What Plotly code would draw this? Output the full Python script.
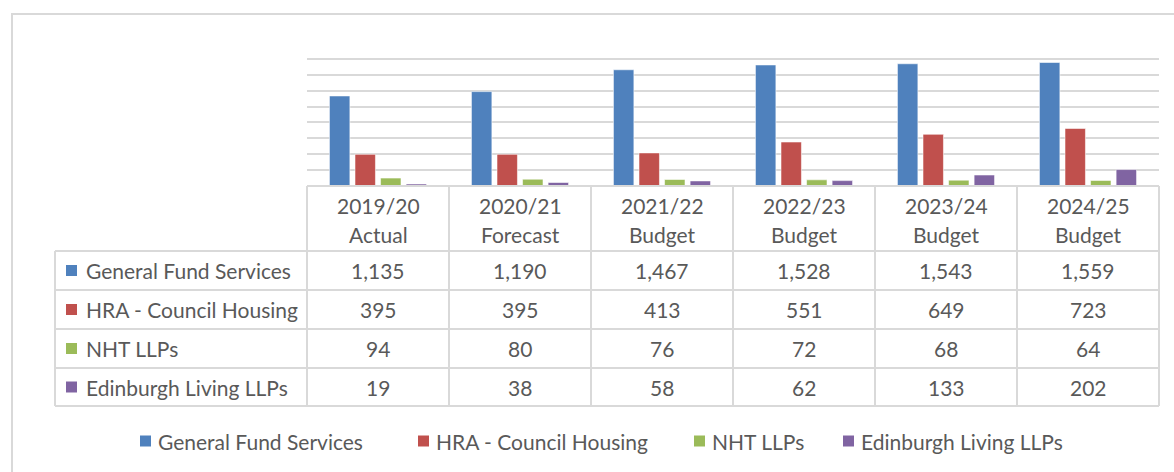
import plotly.graph_objects as go

# ---------------- data ----------------
years = ["2019/20", "2020/21", "2021/22", "2022/23", "2023/24", "2024/25"]
stages = ["Actual", "Forecast", "Budget", "Budget", "Budget", "Budget"]
series_names = ["General Fund Services", "HRA - Council Housing", "NHT LLPs", "Edinburgh Living LLPs"]
general_fund = [1135, 1190, 1467, 1528, 1543, 1559]
hra_council = [395, 395, 413, 551, 649, 723]
nht_llps = [94, 80, 76, 72, 68, 64]
edinburgh_living = [19, 38, 58, 62, 133, 202]
colors = ["#4F81BD", "#C0504D", "#9BBB59", "#8064A2"]

series_values = [general_fund, hra_council, nht_llps, edinburgh_living]
categories = [f"{y} {s}" for y, s in zip(years, stages)]

W, H = 1174, 472
def X(px):
    return px / W
def Y(py):
    return 1 - py / H

FONT = "Lato"
TXT = "#595959"
GRID = "#D9D9D9"
FS = 21

fig = go.Figure()
for name, vals, col in zip(series_names, series_values, colors):
    fig.add_trace(go.Bar(
        x=categories, y=vals, name=name,
        marker=dict(color=col, line=dict(color="rgba(255,255,255,0.55)", width=1)),
        showlegend=False,
    ))

# table geometry (pixels)
tab_left, col_left, tab_right = 55, 307, 1159
head_top = 186
row_lines = [251, 290, 329, 368, 406]
row_centers = [270.5, 309.5, 348.5, 387]

shapes = []
# outer chart border
shapes.append(dict(type="rect", xref="paper", yref="paper",
                   x0=X(12), x1=X(1190), y0=Y(490), y1=Y(14),
                   line=dict(color=GRID, width=2), fillcolor="rgba(0,0,0,0)", layer="below"))
# table horizontal lines
shapes.append(dict(type="line", xref="paper", yref="paper", x0=X(col_left), x1=X(tab_right),
                   y0=Y(head_top), y1=Y(head_top), line=dict(color=GRID, width=2)))
for ry in row_lines:
    shapes.append(dict(type="line", xref="paper", yref="paper", x0=X(tab_left), x1=X(tab_right),
                       y0=Y(ry), y1=Y(ry), line=dict(color=GRID, width=2)))
# table vertical lines
ncol = len(categories)
cw = (tab_right - col_left) / ncol
for i in range(ncol + 1):
    xx = col_left + i * cw
    shapes.append(dict(type="line", xref="paper", yref="paper", x0=X(xx), x1=X(xx),
                       y0=Y(head_top), y1=Y(row_lines[-1]), line=dict(color=GRID, width=2)))
shapes.append(dict(type="line", xref="paper", yref="paper", x0=X(tab_left), x1=X(tab_left),
                   y0=Y(row_lines[0]), y1=Y(row_lines[-1]), line=dict(color=GRID, width=2)))

annotations = []
# header text
for cat, yr, st in zip(categories, years, stages):
    annotations.append(dict(x=cat, xref="x", y=Y(206), yref="paper", text=yr, showarrow=False,
                            xanchor="center", yanchor="middle", font=dict(family=FONT, size=FS, color=TXT)))
    annotations.append(dict(x=cat, xref="x", y=Y(234), yref="paper", text=st, showarrow=False,
                            xanchor="center", yanchor="middle", font=dict(family=FONT, size=FS, color=TXT)))
# row labels + values
for name, vals, col, cy in zip(series_names, series_values, colors, row_centers):
    shapes.append(dict(type="rect", xref="paper", yref="paper", x0=X(66), x1=X(77),
                       y0=Y(cy + 5.5), y1=Y(cy - 5.5), fillcolor=col, line=dict(width=0)))
    annotations.append(dict(x=X(84), xref="paper", y=Y(cy), yref="paper", text=name, showarrow=False,
                            xanchor="left", yanchor="middle", font=dict(family=FONT, size=FS, color=TXT)))
    for cat, v in zip(categories, vals):
        annotations.append(dict(x=cat, xref="x", y=Y(cy), yref="paper", text=f"{v:,}", showarrow=False,
                                xanchor="center", yanchor="middle", font=dict(family=FONT, size=FS, color=TXT)))

# bottom legend
leg_sq = [140, 418, 694, 843]
leg_y = 441
for name, col, lx in zip(series_names, colors, leg_sq):
    shapes.append(dict(type="rect", xref="paper", yref="paper", x0=X(lx), x1=X(lx + 11),
                       y0=Y(leg_y + 5.5), y1=Y(leg_y - 5.5), fillcolor=col, line=dict(width=0)))
    annotations.append(dict(x=X(lx + 16), xref="paper", y=Y(leg_y), yref="paper", text=name, showarrow=False,
                            xanchor="left", yanchor="middle", font=dict(family=FONT, size=FS, color=TXT)))

fig.update_layout(
    width=W, height=H,
    margin=dict(l=0, r=0, t=0, b=0),
    paper_bgcolor="white", plot_bgcolor="white",
    barmode="group", bargap=0.28, bargroupgap=0.2,
    shapes=shapes, annotations=annotations,
    xaxis=dict(domain=[X(col_left), X(tab_right)], showticklabels=False, showgrid=False,
               zeroline=False, showline=False, ticks=""),
    yaxis=dict(domain=[Y(185.5), Y(43.5)], range=[0, 1800], dtick=200, showticklabels=False,
               showgrid=True, gridcolor=GRID, gridwidth=2, zeroline=True, zerolinecolor=GRID,
               zerolinewidth=2, showline=False, ticks=""),
    showlegend=False,
)

fig.write_html("out.html", config={"displayModeBar": False},
               post_script="document.body.style.margin='0';document.body.style.overflow='hidden';")
